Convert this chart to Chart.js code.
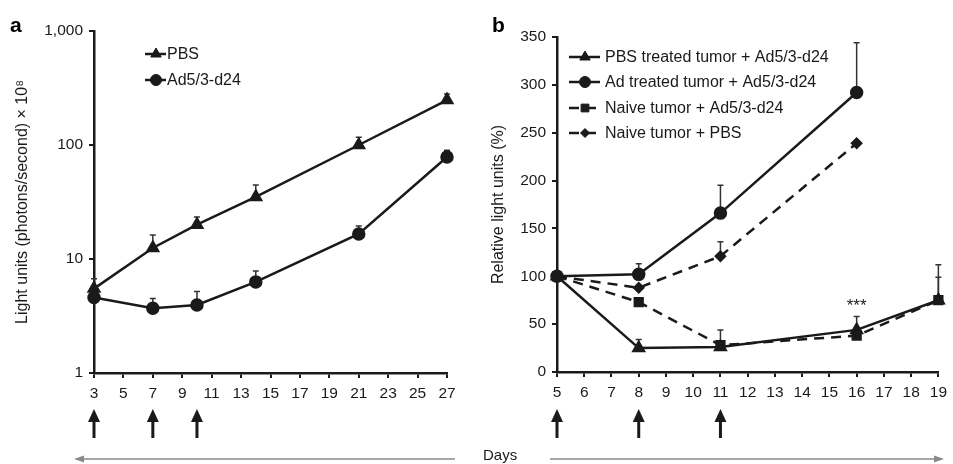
<!DOCTYPE html>
<html>
<head>
<meta charset="utf-8">
<script src="https://cdn.jsdelivr.net/npm/chart.js@4.4.1/dist/chart.umd.min.js"></script>
<style>
  html, body { margin: 0; padding: 0; background: #fff; }
  #wrap { position: relative; width: 953px; height: 464px; }
  .panel { position: absolute; top: 0; height: 464px; }
  #panelA { left: 0; width: 476px; }
  #panelB { left: 476px; width: 477px; }
</style>
</head>
<body>
<div id="wrap">
  <div class="panel" id="panelA"><canvas id="chartA"></canvas></div>
  <div class="panel" id="panelB"><canvas id="chartB"></canvas></div>
</div>
<script>
// panel a: light units, log scale
const daysA = [3, 7, 10, 14, 21, 27];
const pbsA = [5.5, 12.5, 20, 35, 100, 248];
const pbsErrA = [6.7, 16.2, 23.4, 44.6, 117, 280];
const adA = [4.6, 3.7, 3.95, 6.3, 16.6, 78.5];
const adErrA = [null, 4.5, 5.2, 7.85, 19.5, 90];
const xTicksA = [3, 5, 7, 9, 11, 13, 15, 17, 19, 21, 23, 25, 27];
const yTicksA = [1, 10, 100, 1000];
const doseDaysA = [3, 7, 10];

// panel b: relative light units (%)
const daysB = [5, 8, 11, 16, 19];
const pbsTreatedB = [100, 25, 26, 44, 75];
const pbsTreatedErrB = [null, 34, 44, 58, 112];
const adTreatedB = [100, 102, 166, 292, null];
const adTreatedErrB = [null, 113, 195, 344, null];
const naiveAdB = [100, 73, 28, 38, 75];
const naiveAdErrB = [null, null, null, null, 99];
const naivePbsB = [100, 88, 121, 239, null];
const naivePbsErrB = [null, null, 136, null, null];
const xTicksB = [5, 6, 7, 8, 9, 10, 11, 12, 13, 14, 15, 16, 17, 18, 19];
const yTicksB = [0, 50, 100, 150, 200, 250, 300, 350];
const doseDaysB = [5, 8, 11];
const starDay = 16, starValue = 73;

const ink = '#1a1a1a';
const font = '"Liberation Sans", Arial, Helvetica, sans-serif';

Chart.defaults.font.family = font;
Chart.defaults.color = ink;

function points(days, vals) {
    const out = [];
    days.forEach((d, i) => { if (vals[i] != null) out.push({ x: d, y: vals[i] }); });
    return out;
}

function series(label, days, vals, errs, style, radius, dashed) {
    return {
        label: label,
        data: points(days, vals),
        errTop: errs,
        errDays: days,
        borderColor: ink,
        backgroundColor: ink,
        pointBackgroundColor: ink,
        pointBorderColor: ink,
        borderWidth: 2.5,
        borderDash: dashed ? [10, 7] : [],
        pointStyle: style,
        pointRadius: radius,
        pointHoverRadius: radius,
        tension: 0,
        clip: false
    };
}

// error bars (upper only), arrows, legend and labels
const extras = {
    id: 'extras',
    beforeDatasetsDraw(chart) {
        const ctx = chart.ctx, xs = chart.scales.x, ys = chart.scales.y;
        ctx.save();
        ctx.strokeStyle = '#333';
        ctx.lineWidth = 1.5;
        chart.data.datasets.forEach(ds => {
            ds.errDays.forEach((d, i) => {
                const top = ds.errTop[i];
                if (top == null) return;
                const px = xs.getPixelForValue(d);
                const vals = ds.data.find(p => p.x === d);
                const py0 = ys.getPixelForValue(vals.y);
                const py1 = ys.getPixelForValue(top);
                ctx.beginPath();
                ctx.moveTo(px, py0);
                ctx.lineTo(px, py1);
                ctx.moveTo(px - 3, py1);
                ctx.lineTo(px + 3, py1);
                ctx.stroke();
            });
        });
        ctx.restore();
    },
    afterDraw(chart, args, opts) {
        const ctx = chart.ctx, xs = chart.scales.x, ys = chart.scales.y;
        ctx.save();

        // legend
        chart.data.datasets.forEach((ds, i) => {
            const y = opts.legendRows[i];
            const x0 = opts.legendX[0], x1 = opts.legendX[1];
            ctx.strokeStyle = ink;
            ctx.lineWidth = 2.5;
            ctx.setLineDash(ds.borderDash);
            ctx.beginPath();
            ctx.moveTo(x0, y);
            ctx.lineTo(x1, y);
            ctx.stroke();
            ctx.setLineDash([]);
            ctx.fillStyle = ink;
            ctx.lineWidth = 1;
            Chart.helpers.drawPoint(ctx, { pointStyle: ds.pointStyle, radius: ds.pointRadius, rotation: 0, borderWidth: 1 }, opts.legendMarkX, y);
            ctx.font = '16px ' + font;
            ctx.textAlign = 'left';
            ctx.textBaseline = 'middle';
            ctx.fillText(ds.label, opts.legendTextX, y + 1);
        });

        // panel letter
        ctx.fillStyle = '#000';
        ctx.font = 'bold 21px ' + font;
        ctx.textAlign = 'left';
        ctx.textBaseline = 'alphabetic';
        ctx.fillText(opts.letter, opts.letterX, 32);

        // dosing arrows
        ctx.fillStyle = ink;
        ctx.strokeStyle = ink;
        opts.doseDays.forEach(d => {
            const px = xs.getPixelForValue(d);
            ctx.beginPath();
            ctx.moveTo(px, 409);
            ctx.lineTo(px - 6, 422);
            ctx.lineTo(px + 6, 422);
            ctx.closePath();
            ctx.fill();
            ctx.lineWidth = 3;
            ctx.beginPath();
            ctx.moveTo(px, 418);
            ctx.lineTo(px, 438);
            ctx.stroke();
        });

        // long grey time arrow
        const g = opts.timeLine;
        ctx.strokeStyle = '#8a8a8a';
        ctx.fillStyle = '#8a8a8a';
        ctx.lineWidth = 1.5;
        ctx.beginPath();
        ctx.moveTo(g.from, 459);
        ctx.lineTo(g.to, 459);
        ctx.stroke();
        const dir = g.to > g.from ? 1 : -1;
        ctx.beginPath();
        ctx.moveTo(g.to + dir * 2, 459);
        ctx.lineTo(g.to - dir * 8, 455.5);
        ctx.lineTo(g.to - dir * 8, 462.5);
        ctx.closePath();
        ctx.fill();

        if (opts.daysLabel) {
            ctx.fillStyle = ink;
            ctx.font = '15px ' + font;
            ctx.textAlign = 'left';
            ctx.textBaseline = 'middle';
            ctx.fillText('Days', opts.daysLabel, 456);
        }

        if (opts.stars) {
            ctx.fillStyle = ink;
            ctx.font = '17px ' + font;
            ctx.textAlign = 'center';
            ctx.textBaseline = 'middle';
            ctx.fillText('***', xs.getPixelForValue(starDay), ys.getPixelForValue(starValue) + 4);
        }
        ctx.restore();
    }
};

function axisX(min, max, ticks, height) {
    return {
        type: 'linear',
        min: min,
        max: max,
        afterBuildTicks: s => { s.ticks = ticks.map(v => ({ value: v })); },
        afterFit: s => { s.height = height; },
        border: { color: ink, width: 2.5 },
        grid: { drawOnChartArea: false, drawTicks: true, tickLength: 5, color: ink, lineWidth: 2 },
        ticks: { font: { size: 15.5 }, color: ink, padding: 6, maxRotation: 0, autoSkip: false }
    };
}

function axisY(extra, title, ticks, width) {
    return Object.assign({
        afterBuildTicks: s => { s.ticks = ticks.map(v => ({ value: v })); },
        afterFit: s => { s.width = width; },
        border: { color: ink, width: 2.5 },
        grid: { drawOnChartArea: false, drawTicks: true, tickLength: 5, color: ink, lineWidth: 2 },
        title: { display: true, text: title, font: { size: 16 }, color: ink, padding: { top: 13, bottom: 0 } }
    }, extra);
}

new Chart(document.getElementById('chartA'), {
    type: 'line',
    data: {
        datasets: [
            series('PBS', daysA, pbsA, pbsErrA, 'triangle', 6, false),
            series('Ad5/3-d24', daysA, adA, adErrA, 'circle', 5.5, false)
        ]
    },
    options: {
        responsive: true,
        maintainAspectRatio: false,
        animation: false,
        layout: { padding: { top: 31, right: 29, bottom: 0, left: 0 } },
        plugins: {
            legend: { display: false },
            tooltip: { enabled: false },
            extras: {
                legendRows: [54, 80],
                legendX: [145, 166],
                legendMarkX: 156,
                legendTextX: 167,
                letter: 'a',
                letterX: 10,
                doseDays: doseDaysA,
                timeLine: { from: 455, to: 76 }
            }
        },
        scales: {
            x: axisX(3, 27, xTicksA, 91),
            y: axisY({
                type: 'logarithmic',
                min: 1,
                max: 1000,
                ticks: { font: { size: 15.5 }, color: ink, padding: 6, callback: v => v.toLocaleString('en-US') }
            }, 'Light units (photons/second) \u00d7 10\u2078', yTicksA, 94)
        }
    },
    plugins: [extras]
});

new Chart(document.getElementById('chartB'), {
    type: 'line',
    data: {
        datasets: [
            series('PBS treated tumor + Ad5/3-d24', daysB, pbsTreatedB, pbsTreatedErrB, 'triangle', 6, false),
            series('Ad treated tumor + Ad5/3-d24', daysB, adTreatedB, adTreatedErrB, 'circle', 5.5, false),
            series('Naive tumor + Ad5/3-d24', daysB, naiveAdB, naiveAdErrB, 'rect', 5.5, true),
            series('Naive tumor + PBS', daysB, naivePbsB, naivePbsErrB, 'rectRot', 4.5, true)
        ]
    },
    options: {
        responsive: true,
        maintainAspectRatio: false,
        animation: false,
        layout: { padding: { top: 37, right: 10, bottom: 0, left: 0 } },
        plugins: {
            legend: { display: false },
            tooltip: { enabled: false },
            extras: {
                legendRows: [57, 82, 108, 133],
                legendX: [93, 124],
                legendMarkX: 109,
                legendTextX: 129,
                letter: 'b',
                letterX: 16,
                doseDays: doseDaysB,
                timeLine: { from: 74, to: 466 },
                daysLabel: 7,
                stars: true
            }
        },
        scales: {
            x: axisX(5, 19, xTicksB, 92),
            y: axisY({
                type: 'linear',
                min: 0,
                max: 350,
                ticks: { font: { size: 15.5 }, color: ink, padding: 6 }
            }, 'Relative light units (%)', yTicksB, 81)
        }
    },
    plugins: [extras]
});
</script>
</body>
</html>
